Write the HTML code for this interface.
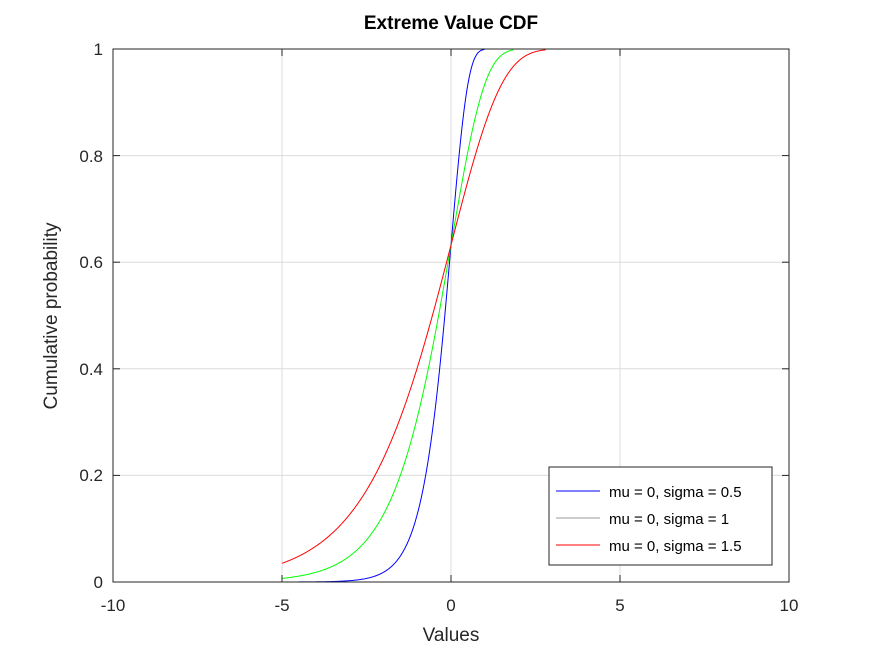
<!DOCTYPE html>
<html><head><meta charset="utf-8"><style>
body{margin:0;background:#fff;}
svg{display:block;font-family:"Liberation Sans",sans-serif;}
</style></head><body>
<svg id="s" width="872" height="654" xmlns="http://www.w3.org/2000/svg">
<rect width="872" height="654" fill="#fff"/>
<g stroke="#dcdcdc" stroke-width="1">
<line x1="282" y1="49" x2="282" y2="582"/>
<line x1="451" y1="49" x2="451" y2="582"/>
<line x1="620" y1="49" x2="620" y2="582"/>
<line x1="113" y1="155.6" x2="789" y2="155.6"/>
<line x1="113" y1="262.2" x2="789" y2="262.2"/>
<line x1="113" y1="368.8" x2="789" y2="368.8"/>
<line x1="113" y1="475.4" x2="789" y2="475.4"/>
</g>
<g id="curves" fill="none" stroke-width="1"></g>
<rect x="113" y="49" width="676" height="533" fill="none" stroke="#262626" stroke-width="1"/>
<g stroke="#262626">
<line x1="113" y1="582" x2="113" y2="575"/><line x1="282" y1="582" x2="282" y2="575"/><line x1="451" y1="582" x2="451" y2="575"/><line x1="620" y1="582" x2="620" y2="575"/><line x1="789" y1="582" x2="789" y2="575"/>
<line x1="113" y1="49" x2="113" y2="56"/><line x1="282" y1="49" x2="282" y2="56"/><line x1="451" y1="49" x2="451" y2="56"/><line x1="620" y1="49" x2="620" y2="56"/><line x1="789" y1="49" x2="789" y2="56"/>
<line x1="113" y1="49" x2="120" y2="49"/><line x1="113" y1="155.6" x2="120" y2="155.6"/><line x1="113" y1="262.2" x2="120" y2="262.2"/><line x1="113" y1="368.8" x2="120" y2="368.8"/><line x1="113" y1="475.4" x2="120" y2="475.4"/><line x1="113" y1="582" x2="120" y2="582"/>
<line x1="789" y1="49" x2="782" y2="49"/><line x1="789" y1="155.6" x2="782" y2="155.6"/><line x1="789" y1="262.2" x2="782" y2="262.2"/><line x1="789" y1="368.8" x2="782" y2="368.8"/><line x1="789" y1="475.4" x2="782" y2="475.4"/>
</g>
<g font-size="17" fill="#262626" text-anchor="middle">
<text x="113" y="611">-10</text><text x="282" y="611">-5</text><text x="451" y="611">0</text><text x="620" y="611">5</text><text x="789" y="611">10</text>
</g>
<g font-size="17" fill="#262626" text-anchor="end">
<text x="103" y="55">1</text><text x="103" y="162">0.8</text><text x="103" y="268">0.6</text><text x="103" y="375">0.4</text><text x="103" y="481">0.2</text><text x="103" y="588">0</text>
</g>
<text x="451" y="641" font-size="19" fill="#262626" text-anchor="middle">Values</text>
<text transform="translate(57,316) rotate(-90)" font-size="19" fill="#262626" text-anchor="middle">Cumulative probability</text>
<text x="451" y="29" font-size="19" font-weight="bold" fill="#000" text-anchor="middle">Extreme Value CDF</text>
<rect x="549" y="467" width="223" height="98" fill="#fff" stroke="#262626"/>
<line x1="556" y1="491" x2="600" y2="491" stroke="#0000ff"/>
<line x1="556" y1="518" x2="600" y2="518" stroke="#999"/>
<line x1="556" y1="545" x2="600" y2="545" stroke="#ff0000"/>
<g font-size="15" fill="#000">
<text x="609" y="497">mu = 0, sigma = 0.5</text>
<text x="609" y="524">mu = 0, sigma = 1</text>
<text x="609" y="551">mu = 0, sigma = 1.5</text>
</g>
</svg>
<script>
var g=document.getElementById('curves');
[[0.5,'#0000ff',1.0],[1,'#00ff00',1.85],[1.5,'#ff0000',2.8]].forEach(function(c){
 var d='';
 for(var x=-5;x<=c[2]+1e-9;x+=0.02){
  var p=1-Math.exp(-Math.exp(x/c[0]));
  d+=(d?'L':'M')+(451+x*33.8).toFixed(2)+','+(582-p*533).toFixed(2);
 }
 var e=document.createElementNS('http://www.w3.org/2000/svg','path');
 e.setAttribute('d',d);e.setAttribute('stroke',c[1]);g.appendChild(e);
});
</script>
</body></html>
